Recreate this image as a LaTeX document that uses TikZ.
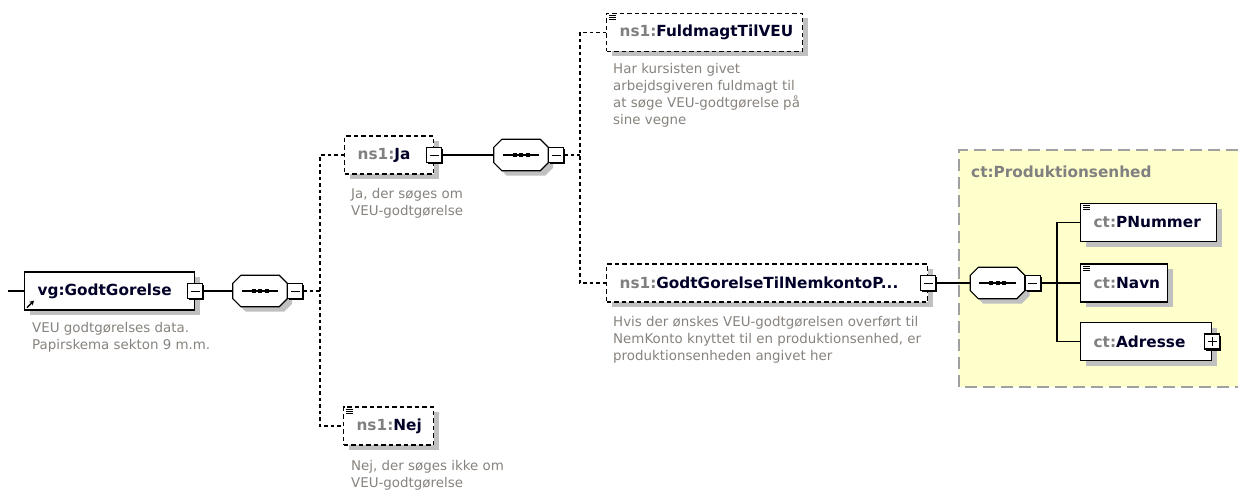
\documentclass[tikz,border=0pt]{standalone}
\usepackage{fontspec}
\setmainfont{DejaVu Sans}
\usetikzlibrary{shadows,arrows.meta}
\definecolor{pfxgrey}{RGB}{128,128,128}
\definecolor{docgrey}{RGB}{135,130,125}
\definecolor{shadegrey}{RGB}{192,192,192}
\definecolor{namecol}{RGB}{0,0,40}
\definecolor{grpfill}{RGB}{255,255,204}
\definecolor{grpline}{RGB}{160,160,160}
\hyphenpenalty=10000
\exhyphenpenalty=10000
\newcommand{\pfx}[1]{\textcolor{pfxgrey}{#1:}}
\newcommand{\docicon}[1]{%
  \foreach \k in {0,1,2}
    \draw[line width=0.8pt] ([xshift=3pt, yshift={-2.5pt-2.2pt*\k}]#1.north west) -- ++(7pt,0pt);}
% sequence compositor drawn round an empty node
\newcommand{\seqshape}[1]{%
  \draw[line width=1.2pt, fill=white,
    preaction={fill=shadegrey, transform canvas={shift={(5pt,-5pt)}}}]
    ([xshift=8pt]#1.north west) -- ([xshift=-8pt]#1.north east) -- ([yshift=-8pt]#1.north east)
    -- ([yshift=8pt]#1.south east) -- ([xshift=-8pt]#1.south east) -- ([xshift=8pt]#1.south west)
    -- ([yshift=8pt]#1.south west) -- ([yshift=-8pt]#1.north west) -- cycle;
  \draw[line width=1.2pt] ([xshift=9pt]#1.west) -- ([xshift=-9pt]#1.east);
  \foreach \d in {-6.5,0,6.5}
    \fill ([xshift=\d pt]#1.center) +(-2pt,-2pt) rectangle +(2pt,2pt);}

\begin{document}
\begin{tikzpicture}[
  x=1pt, y=-1pt,
  elem/.style={rectangle, draw, fill=white, line width=1.2pt, minimum height=38pt,
    inner xsep=13pt, inner ysep=0pt, align=left, anchor=west, text=namecol,
    font=\fontsize{15.3}{18}\selectfont\bfseries,
    drop shadow={shadow xshift=5pt, shadow yshift=-5pt, fill=shadegrey, opacity=1}},
  optelem/.style={elem, dash pattern=on 4.5pt off 3pt},
  seq/.style={rectangle, minimum width=54pt, minimum height=31pt, inner sep=0pt},
  toggle/.style={rectangle, draw, fill=white, line width=1.2pt, minimum size=15pt, inner sep=0pt,
    drop shadow={shadow xshift=1.5pt, shadow yshift=-1.5pt, fill=black, opacity=1}},
  minus/.style={toggle, path picture={
      \draw[line width=1pt] ([xshift=3pt]path picture bounding box.west) -- ([xshift=-3pt]path picture bounding box.east);}},
  plus/.style={toggle, path picture={
      \draw[line width=1pt] ([xshift=3pt]path picture bounding box.west) -- ([xshift=-3pt]path picture bounding box.east);
      \draw[line width=1pt] ([yshift=-3pt]path picture bounding box.north) -- ([yshift=3pt]path picture bounding box.south);}},
  doc/.style={anchor=north west, align=left, inner sep=0pt, text=docgrey,
    font=\fontsize{13.4}{17}\selectfont},
  link/.style={line width=1.2pt},
  optlink/.style={line width=1.2pt, dash pattern=on 3.5pt off 3pt}
]
\useasboundingbox (0,0) rectangle (1238,492);

% Root element
\coordinate (in) at (8,291);
\node[elem, text width=144pt] (vg) at (24,291) {vg:GodtGorelse};
\node[minus] (vgm) at (vg.east) {};
\draw[line width=1.5pt, -{Stealth[length=4.5pt,width=5pt]}] ([shift={(3pt,3pt)}]vg.south west) -- ++(7pt,7pt);
\node[doc] (vgdoc) at (32,322) {VEU godtgørelses data.\\Papirskema sekton 9 m.m.};
\node[seq] (seq1) at (260,291) {};
\seqshape{seq1}
\node[minus, anchor=west] (s1m) at (seq1.east) {};
\coordinate (j1) at (320,291);

% Ja / Nej
\node[optelem, text width=63pt] (ja) at (344,155) {\pfx{ns1}Ja};
\node[minus] (jam) at (ja.east) {};
\node[doc] (jadoc) at (351,188) {Ja, der søges om\\VEU-godtgørelse};
\node[optelem, text width=64pt] (nej) at (343,426) {\pfx{ns1}Nej};
\docicon{nej}
\node[doc] (nejdoc) at (351,460) {Nej, der søges ikke om\\VEU-godtgørelse};

% Ja content
\node[seq] (seq2) at (521,155) {};
\seqshape{seq2}
\node[minus, anchor=west] (s2m) at (seq2.east) {};
\coordinate (j2) at (580,155);
\node[optelem, text width=170pt] (fuld) at (606,32.5) {\pfx{ns1}FuldmagtTilVEU};
\docicon{fuld}
\node[doc] (fulddoc) at (613,63) {Har kursisten givet\\arbejdsgiveren fuldmagt til\\at søge VEU-godtgørelse på\\sine vegne};
\node[optelem, text width=295pt] (nem) at (606,283) {\pfx{ns1}GodtGorelseTilNemkontoP...};
\node[minus] (nemm) at (nem.east) {};
\node[doc] (nemdoc) at (613,316) {Hvis der ønskes VEU-godtgørelsen overført til\\NemKonto knyttet til en produktionsenhed, er\\produktionsenheden angivet her};

% Produktionsenhed type
\fill[grpfill] (959,150) rectangle (1238,387);
\draw[grpline, line width=1.2pt, dash pattern=on 12pt off 6pt] (1238,150) -- (959,150) -- (959,387) -- (1238,387);
\node[anchor=west, inner sep=0pt, text=pfxgrey, font=\fontsize{15.3}{18}\selectfont\bfseries] (grpt) at (971,172) {ct:Produktionsenhed};
\node[seq] (seq3) at (997.5,283) {};
\seqshape{seq3}
\node[minus, anchor=west] (s3m) at (seq3.east) {};
\coordinate (j3) at (1057,283);
\node[elem, text width=110pt] (pnr) at (1080,222.5) {\pfx{ct}PNummer};
\docicon{pnr}
\node[elem, text width=61pt] (navn) at (1080,283) {\pfx{ct}Navn};
\docicon{navn}
\node[elem, text width=105pt] (adr) at (1080,341.5) {\pfx{ct}Adresse};
\node[plus] (adrp) at (adr.east) {};

% Connectors
\draw[link] (in) -- (vg);
\draw[link] (vgm) -- (seq1);
\draw[optlink] (s1m) -- (j1);
\draw[optlink] (ja) -| (j1) |- (nej);
\draw[link] (jam) -- (seq2);
\draw[optlink] (s2m) -- (j2);
\draw[optlink] (fuld) -| (j2) |- (nem);
\draw[link] (nemm) -- (seq3);
\draw[link] (s3m) -- (j3);
\draw[link] (pnr) -| (j3) |- (adr);
\draw[link] (j3) -- (navn);
\end{tikzpicture}
\end{document}
